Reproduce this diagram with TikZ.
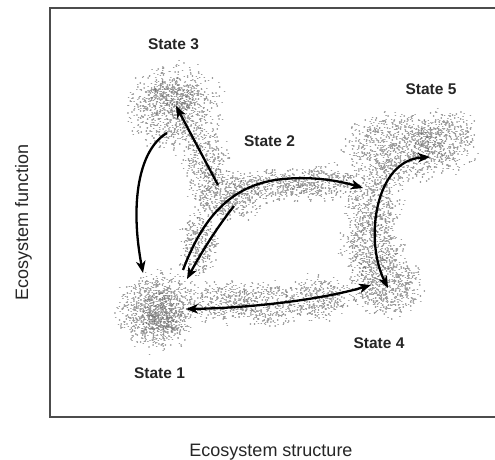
\documentclass[tikz,border=0pt]{standalone}
\usepackage{fontspec}
\setmainfont{Liberation Sans}
\usetikzlibrary{arrows.meta}
\tikzset{
  state/.style={anchor=base, font=\bfseries\fontsize{15.5}{18}\selectfont, text=black!85},
  axis/.style={anchor=base, font=\fontsize{18}{21}\selectfont, text=black!85},
  trans/.style={line width=2.3pt, -{Stealth[length=12pt, width=9.5pt, inset=3.5pt]}},
  twoway/.style={line width=2.3pt, {Stealth[length=12pt, width=9.5pt, inset=3.5pt]}-{Stealth[length=12pt, width=9.5pt, inset=3.5pt]}},
}
% scattered gray dots round (#1,#2), spread #3 x #4, #5 dots
\newcommand{\speckle}[5]{%
  \draw[black!60, line width=1.4pt, line cap=round, draw opacity=0.65]
    \foreach \i [evaluate=\i as \ang using 360*rnd,
                 evaluate=\i as \rad using sqrt(rnd)*(0.62+0.6*rnd)] in {1,...,#5}
    {({#1+#3*\rad*cos(\ang)},{#2+#4*\rad*sin(\ang)}) -- ++(0.3,0)};}
\begin{document}
\begin{tikzpicture}[x=1pt, y=-1pt]
    \useasboundingbox (0,0) rectangle (495,459);
    \pgfmathsetseed{17}
    % clouds
    \speckle{175}{108}{44}{40}{850}
    \speckle{170}{100}{22}{20}{250}
    \speckle{205}{160}{22}{30}{300}
    \speckle{225}{197}{34}{25}{500}
    \speckle{198}{245}{18}{32}{320}
    \speckle{158}{310}{38}{38}{900}
    \speckle{160}{315}{22}{20}{350}
    \speckle{222}{302}{32}{21}{330}
    \speckle{270}{304}{32}{23}{330}
    \speckle{318}{297}{32}{21}{330}
    \speckle{272}{186}{38}{17}{320}
    \speckle{322}{182}{36}{17}{320}
    \speckle{395}{147}{48}{34}{850}
    \speckle{445}{140}{32}{30}{450}
    \speckle{373}{200}{28}{32}{450}
    \speckle{371}{245}{30}{28}{450}
    \speckle{385}{285}{34}{30}{650}
    % frame
    \draw[black!70, line width=1.4pt] (495,8) -- (50,8) -- (50,417) -- (495,417);
    % labels
    \node[state] (st3) at (173.5,49) {State 3};
    \node[state] (st5) at (431,94) {State 5};
    \node[state] (st2) at (269.5,146) {State 2};
    \node[state] (st4) at (379,348) {State 4};
    \node[state] (st1) at (159.5,378) {State 1};
    \node[axis] (xlab) at (271,456) {Ecosystem structure};
    \node[axis, rotate=90] (ylab) at (28,222) {Ecosystem function};
    % arrow ends
    \coordinate (s3out) at (167,133);
    \coordinate (s3in) at (176,106);
    \coordinate (s1top) at (143,273);
    \coordinate (s1up) at (183,270);
    \coordinate (s1in) at (187,279);
    \coordinate (s1right) at (186,309);
    \coordinate (s2out) at (218,185);
    \coordinate (s2down) at (234,206);
    \coordinate (s5left) at (363,188);
    \coordinate (s5in) at (430,157);
    \coordinate (s4top) at (388,288);
    \coordinate (s4left) at (371,285);
    % transitions
    \draw[trans] (s3out) .. controls (138,150) and (130,205) .. (s1top);
    \draw[trans] (s2out) -- (s3in);
    \draw[trans] (s1up) .. controls (200,225) and (225,188) .. (275,180)
                        .. controls (310,175) and (340,181) .. (s5left);
    \draw[trans] (s2down) .. controls (215,230) and (200,255) .. (s1in);
    \draw[twoway] (s5in) .. controls (375,160) and (364,240) .. (s4top);
    \draw[twoway] (s1right) .. controls (250,308) and (320,300) .. (s4left);
\end{tikzpicture}
\end{document}
